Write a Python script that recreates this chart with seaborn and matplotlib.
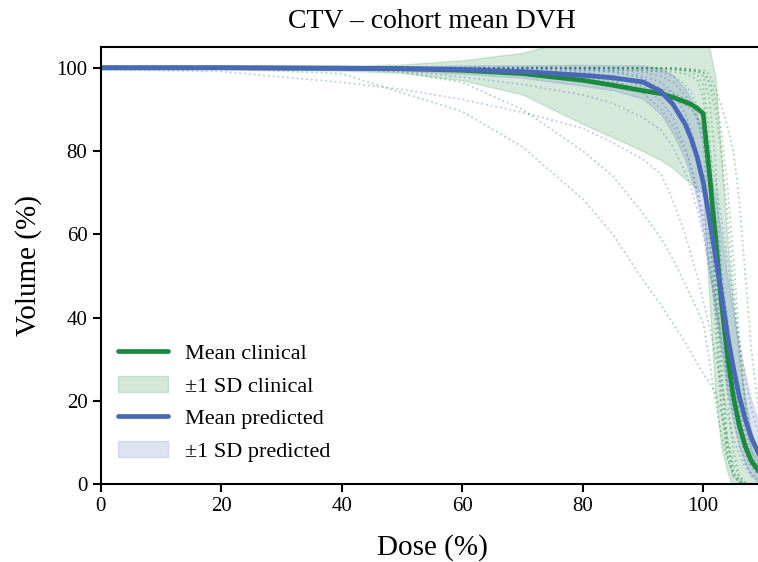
import numpy as np
import pandas as pd
import seaborn as sns
import matplotlib
matplotlib.use("Agg")
import matplotlib.pyplot as plt
from matplotlib.lines import Line2D
from matplotlib.patches import Patch

# dose grid (%) shared by all curves
dose = [0, 20, 40, 50, 60, 70, 80, 85, 90, 93, 95, 97, 98, 99, 100,
        101, 102, 103, 104, 105, 106, 107, 108, 110]

# cohort means and SDs (volume %)
mean_clinical = [100, 100, 99.9, 99.8, 99.4, 98.6, 97.0, 95.8, 94.5, 93.8, 92.9, 91.8, 91.2, 90.3, 89.0,
                 75, 60, 44, 31, 21, 14, 9, 5.5, 1.5]
sd_clinical = [0, 0.2, 0.6, 1.0, 2.4, 5.0, 10.5, 12.5, 14.5, 16, 17, 18.5, 19, 19.5, 19,
               30, 38, 35, 28, 22, 16, 11, 7, 3]
mean_predicted = [100, 100, 99.9, 99.8, 99.6, 99.1, 98.2, 97.6, 96.6, 94.3, 91.2, 86.5, 83.0, 78.5, 72.5,
                  64, 55, 46, 36, 28, 21, 15.5, 11, 5]
sd_predicted = [0, 0.1, 0.3, 0.5, 1.0, 1.5, 2.5, 3.0, 4.0, 5.5, 7, 8.5, 9.5, 10.5, 12,
                13, 14, 14, 14, 13, 12, 10.5, 9, 6]

# individual patients (volume %)
clinical_patients = [
    [100, 99.8, 98.6, 94.0, 89.5, 81.0, 68.5, 60.0, 49.0, 43.0, 38.5, 34.0, 31.5, 29.0, 26.5, 24.5, 22.0, 17.0, 11.0, 5.0, 1.5, 0, 0, 0],
    [100, 100, 99.8, 99.0, 96.5, 90.0, 80.0, 74.0, 65.0, 59.0, 54.0, 48.0, 45.0, 42.0, 38.7, 30.0, 20.0, 12.0, 6.0, 2.0, 0.3, 0, 0, 0],
    [100, 100, 100, 100, 100, 99.9, 99.8, 99.6, 99.4, 99.2, 99.0, 98.5, 98.0, 97.0, 93.0, 75.0, 45.0, 20.0, 7.0, 2.0, 0.5, 0, 0, 0],
    [100, 100, 100, 100, 100, 100, 100, 100, 100, 99.8, 99.6, 99.3, 99.0, 98.3, 96.0, 85.0, 60.0, 30.0, 10.0, 3.0, 1.0, 0, 0, 0],
    [100, 100, 100, 100, 100, 100, 100, 100, 99.9, 99.8, 99.7, 99.5, 99.4, 99.2, 99.0, 97.0, 93.0, 85.0, 72.0, 55.0, 35.0, 18.0, 8.0, 1.0],
    [100, 100, 100, 99.9, 99.7, 99.3, 98.5, 97.5, 96.0, 95.0, 94.0, 92.5, 91.5, 89.0, 82.0, 62.0, 38.0, 18.0, 7.0, 2.0, 0.5, 0, 0, 0],
    [100, 100, 100, 100, 100, 100, 100, 100, 100, 100, 100, 99.8, 99.6, 99.2, 98.0, 93.0, 78.0, 50.0, 22.0, 8.0, 2.0, 0.5, 0, 0],
    [100, 100, 100, 100, 100, 100, 100, 100, 100, 100, 99.9, 99.8, 99.7, 99.6, 99.5, 98.5, 95.0, 91.0, 86.0, 80.0, 68.0, 50.0, 32.0, 8.0],
    [100, 100, 100, 100, 100, 100, 100, 99.9, 99.8, 99.7, 99.6, 99.4, 99.3, 99.2, 99.0, 96.0, 90.0, 80.0, 65.0, 48.0, 32.0, 20.0, 11.0, 2.0],
    [100, 100, 100, 99.8, 99.5, 99.0, 97.5, 96.5, 95.0, 94.0, 93.0, 91.0, 90.0, 88.0, 85.0, 72.0, 50.0, 26.0, 10.0, 3.0, 1.0, 0, 0, 0],
]
predicted_patients = [
    [99.6, 99.1, 96.5, 94.8, 92.4, 89.3, 85.5, 82.0, 78.0, 74.5, 68.0, 60.0, 55.0, 50.0, 44.0, 38.0, 31.0, 24.0, 17.0, 11.0, 7.0, 4.0, 2.0, 0],
    [100, 100, 99.7, 99.2, 97.8, 96.0, 93.5, 91.5, 88.0, 85.0, 81.0, 75.0, 71.0, 66.0, 60.0, 52.0, 44.0, 35.0, 26.0, 18.0, 12.0, 7.0, 4.0, 1.0],
    [100, 100, 100, 100, 99.9, 99.8, 99.5, 99.0, 97.5, 95.0, 92.0, 87.0, 83.5, 79.0, 73.0, 65.0, 56.0, 46.0, 35.0, 25.0, 16.0, 10.0, 6.0, 2.0],
    [100, 100, 100, 100, 100, 99.9, 99.8, 99.5, 99.0, 98.0, 96.5, 93.5, 91.0, 87.5, 82.0, 74.0, 64.0, 52.0, 40.0, 29.0, 20.0, 13.0, 8.0, 3.0],
    [100, 100, 100, 100, 99.8, 99.5, 99.0, 98.0, 95.5, 92.0, 88.0, 81.0, 76.0, 70.0, 63.0, 54.0, 45.0, 35.0, 25.0, 16.0, 9.0, 5.0, 2.5, 0.5],
    [100, 100, 100, 100, 100, 100, 100, 99.9, 99.5, 99.0, 98.0, 96.0, 94.0, 91.0, 87.0, 81.0, 73.0, 64.0, 54.0, 44.0, 34.0, 25.0, 18.0, 8.0],
    [100, 100, 100, 100, 99.9, 99.8, 99.6, 99.2, 98.0, 96.5, 94.0, 89.0, 85.0, 80.0, 74.0, 66.0, 57.0, 47.0, 36.0, 26.0, 18.0, 11.0, 6.0, 1.5],
    [100, 100, 100, 99.9, 99.6, 99.2, 98.5, 97.0, 94.0, 90.0, 86.0, 80.0, 76.0, 71.0, 65.0, 58.0, 50.0, 41.0, 32.0, 23.0, 15.0, 9.0, 5.0, 1.0],
]

green = "#1b8a3c"
blue = "#4a67b8"

sns.set_theme(style="ticks")
plt.rcParams["font.family"] = ["Liberation Serif", "DejaVu Serif"]
plt.rcParams["axes.linewidth"] = 1.5
plt.rcParams["axes.edgecolor"] = "black"
plt.rcParams["text.color"] = "black"
plt.rcParams["axes.labelcolor"] = "black"
plt.rcParams["xtick.color"] = "black"
plt.rcParams["ytick.color"] = "black"

# long-form table of individual curves
rows = []
for group, curves in [("clinical", clinical_patients), ("predicted", predicted_patients)]:
    for i, vol in enumerate(curves):
        for d, v in zip(dose, vol):
            rows.append({"group": group, "patient": f"{group}{i}", "dose": d, "volume": v})
patients = pd.DataFrame(rows)

means = pd.DataFrame({
    "dose": dose * 2,
    "volume": mean_clinical + mean_predicted,
    "group": ["clinical"] * len(dose) + ["predicted"] * len(dose),
})

fig = plt.figure(figsize=(7.58, 5.62), dpi=100)
ax = fig.add_axes([0.1328, 0.1388, 0.8744, 0.7776])

mc, sc = np.array(mean_clinical), np.array(sd_clinical)
mp, sp = np.array(mean_predicted), np.array(sd_predicted)
ax.fill_between(dose, mc - sc, mc + sc, color=green, alpha=0.18, linewidth=1, edgecolor=green)
ax.fill_between(dose, mp - sp, mp + sp, color=blue, alpha=0.18, linewidth=1, edgecolor=blue)

sns.lineplot(data=patients, x="dose", y="volume", hue="group", units="patient", estimator=None,
             palette={"clinical": green, "predicted": blue}, linestyle=":", linewidth=1.3,
             alpha=0.35, legend=False, ax=ax)

sns.lineplot(data=means[means.group == "clinical"], x="dose", y="volume", color=green,
             linewidth=3.4, legend=False, ax=ax)
sns.lineplot(data=means[means.group == "predicted"], x="dose", y="volume", color=blue,
             linewidth=3.4, legend=False, ax=ax)

ax.set_xlim(0, 110)
ax.set_ylim(0, 105)
ax.set_xticks([0, 20, 40, 60, 80, 100])
ax.set_yticks([0, 20, 40, 60, 80, 100])
ax.tick_params(labelsize=15, width=1.5, length=6, pad=3.5)
ax.set_xlabel("Dose (%)", fontsize=21, labelpad=13)
ax.set_ylabel("Volume (%)", fontsize=21, labelpad=10)
ax.set_title("CTV – cohort mean DVH", fontsize=20, pad=14)
ax.spines["right"].set_visible(False)

handles = [
    Line2D([0], [0], color=green, linewidth=3.4),
    Patch(facecolor=green, alpha=0.18, edgecolor=green),
    Line2D([0], [0], color=blue, linewidth=3.4),
    Patch(facecolor=blue, alpha=0.18, edgecolor=blue),
]
labels = ["Mean clinical", "±1 SD clinical", "Mean predicted", "±1 SD predicted"]
ax.legend(handles, labels, loc="lower left", frameon=False, fontsize=16,
          handlelength=2.25, handleheight=0.75, labelspacing=0.52, handletextpad=0.8,
          borderaxespad=0.6, bbox_to_anchor=(-0.008, 0.0))

fig.savefig("out.png", dpi=100)
